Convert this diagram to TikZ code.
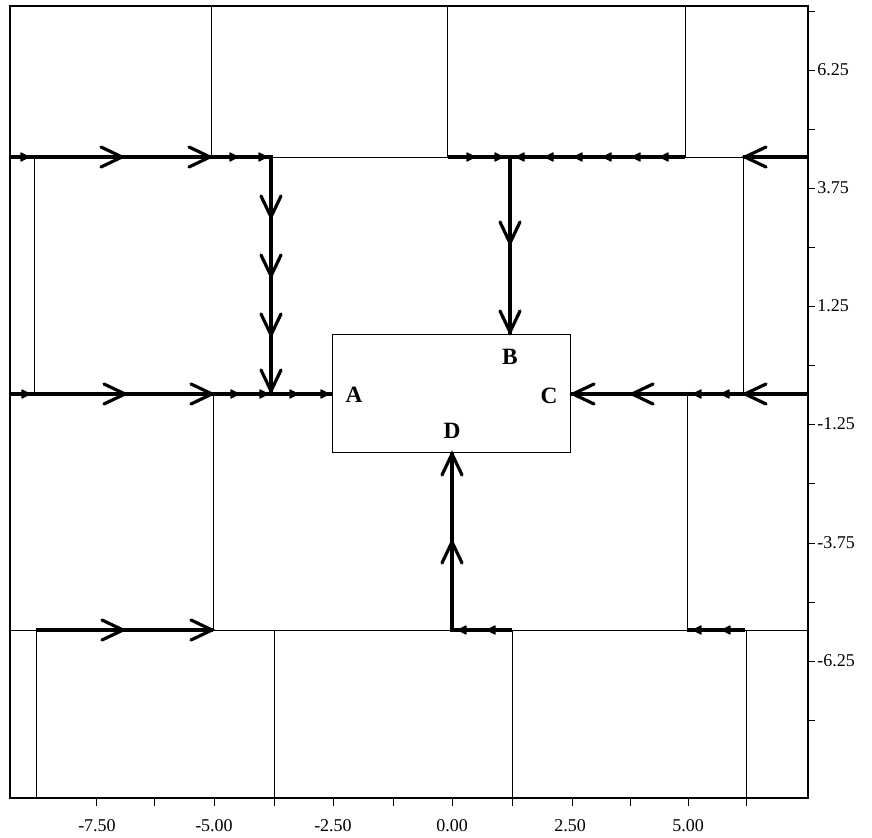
\documentclass[tikz,border=0pt]{standalone}
\usepackage{fontspec}
\setmainfont{Liberation Serif}
\tikzset{
  gridline/.style={line width=0.7pt},
  flowline/.style={line width=2.5pt, line join=miter},
  frameline/.style={line width=1.1pt},
  chevstyle/.style={line width=2.4pt, line cap=round, line join=miter},
  ticklabel/.style={font=\fontsize{13.5}{15}\selectfont, inner sep=0pt},
  portlabel/.style={font=\fontsize{17.5}{19}\selectfont\bfseries, inner sep=0pt},
  chevR/.pic={\draw[chevstyle] (-21,-10) -- (0,0) -- (-21,10);},
  chevL/.pic={\draw[chevstyle] (21,-10) -- (0,0) -- (21,10);},
  chevD/.pic={\draw[chevstyle] (-10,-21) -- (0,0) -- (10,-21);},
  chevU/.pic={\draw[chevstyle] (-10,21) -- (0,0) -- (10,21);},
  tipR/.pic={\filldraw[line width=1pt, line join=round] (-8,-4) -- (0,0) -- (-8,4) -- cycle;},
  tipL/.pic={\filldraw[line width=1pt, line join=round] (8,-4) -- (0,0) -- (8,4) -- cycle;},
}
\begin{document}
\begin{tikzpicture}[x=0.75pt,y=-0.75pt]
\useasboundingbox (0,0) rectangle (872,838);
% frame
\coordinate (fTL) at (10,6);
\coordinate (fBR) at (808,798);
\draw[frameline] (fTL) rectangle (fBR);
% thin grid
\draw[gridline] (10,157) -- (808,157);
\draw[gridline] (10,630) -- (808,630);
\foreach \x in {211,447,685} \draw[gridline] (\x,6) -- (\x,157);
\foreach \x in {34,743} \draw[gridline] (\x,157) -- (\x,394);
\foreach \x in {213,687} \draw[gridline] (\x,394) -- (\x,630);
\foreach \x in {36,274,512,746} \draw[gridline] (\x,630) -- (\x,798);
% central box
\coordinate (boxTL) at (332,334);
\coordinate (boxBR) at (570,452);
\draw[gridline] (boxTL) rectangle (boxBR);
\node[portlabel] (A) at (354,395) {A};
\node[portlabel] (B) at (510,357) {B};
\node[portlabel] (C) at (549,396) {C};
\node[portlabel] (D) at (452,431) {D};
% ports
\coordinate (pA) at (332,394);
\coordinate (pB) at (510,334);
\coordinate (pC) at (570,394);
\coordinate (pD) at (452,452);
% flow lines
\draw[flowline] (10,157) -- (271,157) -- (271,394);
\draw[flowline] (448,157) -- (685,157);
\draw[flowline] (510,157) -- (pB);
\draw[flowline] (743,157) -- (808,157);
\draw[flowline] (10,394) -- (pA);
\draw[flowline] (pC) -- (808,394);
\draw[flowline] (36,630) -- (213,630);
\draw[flowline] (512,630) -- (452,630) -- (pD);
\draw[flowline] (687,630) -- (745,630);
% markers on top line
\pic at (29,157) {tipR};
\pic at (122,157) {chevR};
\pic at (210,157) {chevR};
\pic at (238,157) {tipR};
\pic at (267,157) {tipR};
\foreach \y in {217,276,335,391} \pic at (271,\y) {chevD};
\foreach \x in {475,503} \pic at (\x,157) {tipR};
\foreach \x in {516,545,574,603,632,660} \pic at (\x,157) {tipL};
\foreach \y in {243,332} \pic at (510,\y) {chevD};
\pic at (745,157) {chevL};
% markers on middle line
\pic at (30,394) {tipR};
\pic at (125,394) {chevR};
\pic at (212,394) {chevR};
\foreach \x in {239,268,298,329} \pic at (\x,394) {tipR};
\foreach \x in {573,632,745} \pic at (\x,394) {chevL};
\foreach \x in {693,721} \pic at (\x,394) {tipL};
% markers on bottom line
\pic at (123,630) {chevR};
\pic at (212,630) {chevR};
\foreach \x in {458,487,693,722} \pic at (\x,630) {tipL};
\foreach \y in {542,454} \pic at (452,\y) {chevU};
% axes ticks
\foreach \x in {96,154,214,274,333,393,452,512,572,630,688,746}
  \draw[gridline] (\x,798) -- (\x,806);
\foreach \y in {11,70,129,188,247,306,365,424,483,543,602,661,720}
  \draw[gridline] (808,\y) -- (815,\y);
\foreach \x/\t [count=\i] in {97/-7.50,214/-5.00,333/-2.50,452/0.00,570/2.50,688/5.00}
  \node[ticklabel] (xl\i) at (\x,826) {\t};
\foreach \y/\t [count=\i] in {70/6.25,188/3.75,306/1.25,424/-1.25,543/-3.75,661/-6.25}
  \node[ticklabel, anchor=west] (yl\i) at (817,\y) {\t};
\end{tikzpicture}
\end{document}
